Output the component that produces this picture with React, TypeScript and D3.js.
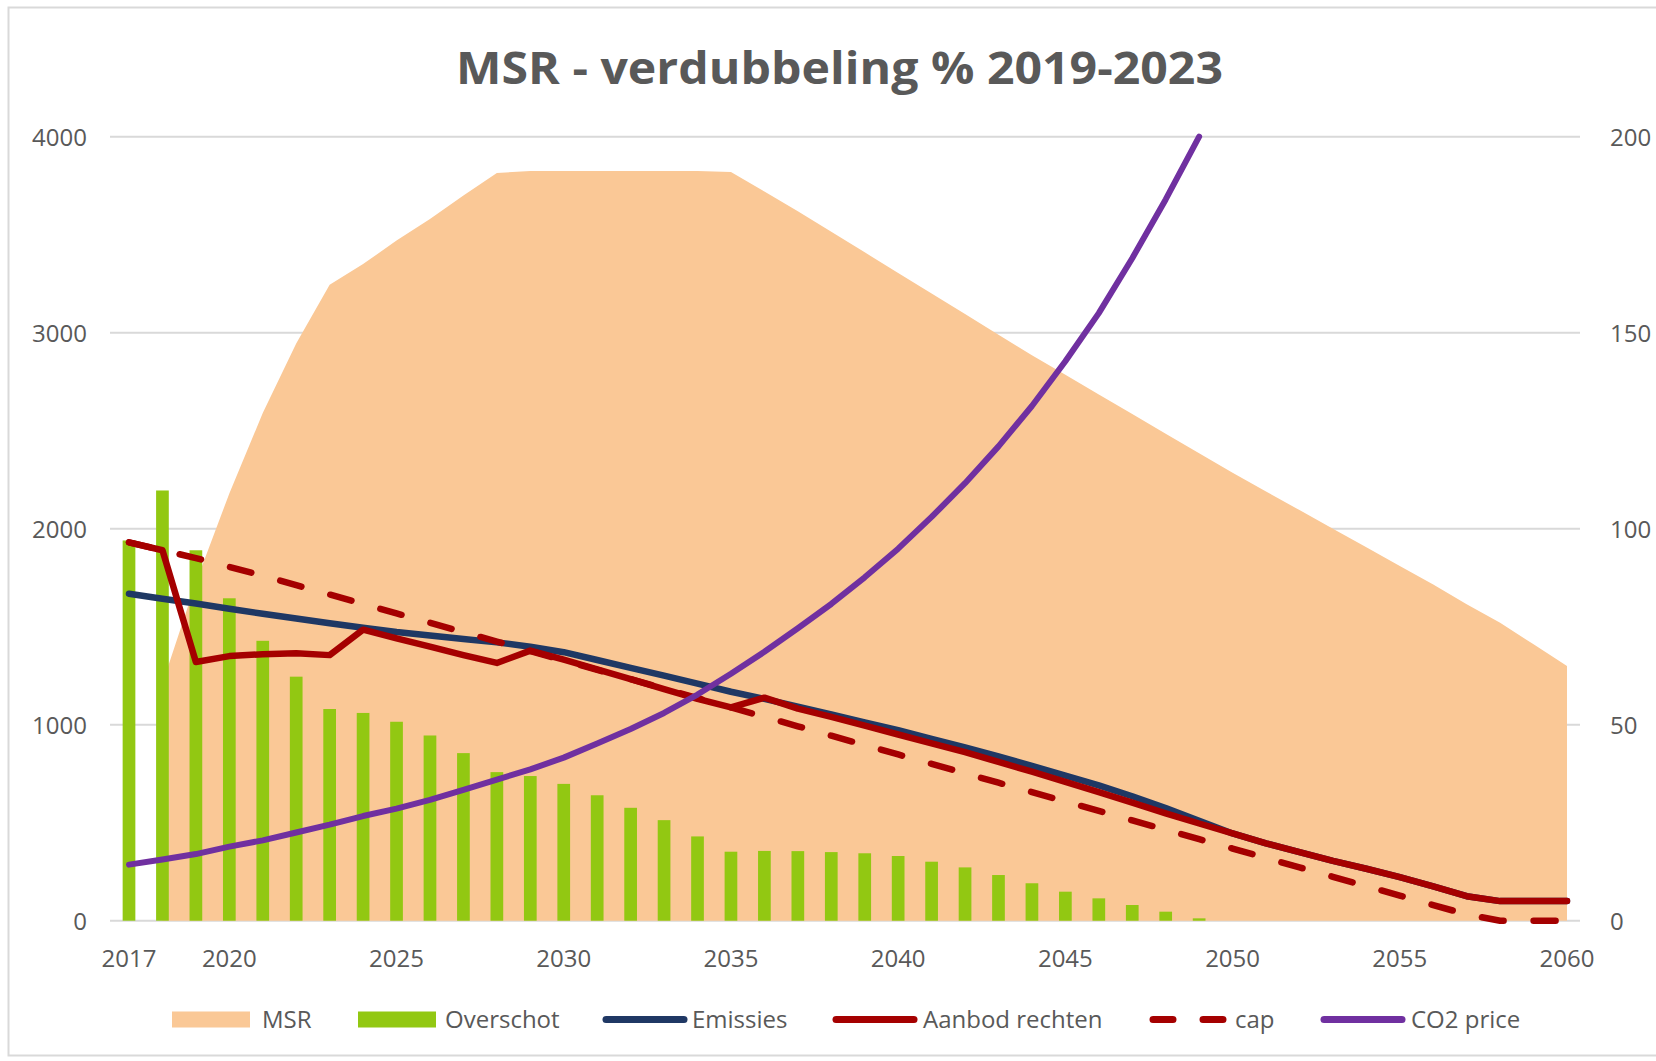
import React from "react";
import { scaleLinear, area, line } from "d3";

const years = [
  2017, 2018, 2019, 2020, 2021, 2022, 2023, 2024, 2025, 2026, 2027, 2028, 2029, 2030, 2031,
  2032, 2033, 2034, 2035, 2036, 2037, 2038, 2039, 2040, 2041, 2042, 2043, 2044, 2045, 2046,
  2047, 2048, 2049, 2050, 2051, 2052, 2053, 2054, 2055, 2056, 2057, 2058, 2059, 2060,
];

// MSR (no value in 2017)
const msr = [
  null, 1210, 1725, 2180, 2590, 2945, 3245, 3350, 3470, 3580, 3700, 3815, 3825, 3825, 3825,
  3825, 3825, 3825, 3820, 3720, 3620, 3515, 3410, 3305, 3200, 3095, 2990, 2885, 2785, 2685,
  2585, 2485, 2385, 2285, 2190, 2095, 2000, 1905, 1810, 1715, 1615, 1520, 1410, 1300,
];

const overschot = [
  1940, 2195, 1890, 1645, 1428, 1245, 1080, 1060, 1015, 945, 855, 758, 738, 698, 640,
  576, 513, 430, 352, 356, 355, 350, 344, 330, 301, 272, 233, 191, 148, 114,
  80, 46, 12, 0, 0, 0, 0, 0, 0, 0, 0, 0, 0, 0,
];

const emissies = [
  1668, 1643, 1618, 1592, 1566, 1542, 1518, 1495, 1473, 1455, 1437, 1420, 1398, 1370, 1330,
  1290, 1250, 1210, 1168, 1132, 1092, 1052, 1012, 972, 928, 884, 838, 790, 740, 690,
  635, 575, 510, 445, 395, 350, 305, 265, 222, 175, 125, 100, 100, 100,
];

const aanbod = [
  1930, 1890, 1320, 1350, 1360, 1365, 1355, 1485, 1440, 1398, 1355, 1315, 1378, 1332, 1282,
  1232, 1182, 1132, 1088, 1138, 1082, 1040, 995, 950, 905, 860, 810, 760, 708, 656,
  602, 548, 496, 445, 395, 350, 305, 265, 222, 175, 125, 100, 100, 100,
];

const cap = [
  1930, 1890, 1850, 1805, 1760, 1712, 1664, 1616, 1568, 1520, 1472, 1424, 1376, 1328, 1280,
  1232, 1184, 1136, 1088, 1040, 992, 944, 896, 848, 800, 752, 704, 656, 608, 560,
  512, 464, 416, 368, 320, 272, 224, 176, 128, 80, 32, 0, 0, 0,
];

// CO2 price, right axis (runs off the top after 2049)
const co2 = [
  14.3, 15.6, 17.0, 18.9, 20.5, 22.5, 24.5, 26.7, 28.6, 30.8, 33.4, 36.0, 38.6, 41.6, 45.2,
  48.9, 53.0, 57.7, 63.0, 68.6, 74.6, 80.8, 87.6, 94.9, 103, 111.6, 121, 131.3, 142.7, 155,
  169, 184, 200, null, null, null, null, null, null, null, null, null, null, null,
];

const xTicks = [2017, 2020, 2025, 2030, 2035, 2040, 2045, 2050, 2055, 2060];
const leftTicks = [0, 1000, 2000, 3000, 4000];
const rightTicks = [0, 50, 100, 150, 200];

const C = {
  msr: "#FAC896",
  bar: "#92C812",
  emis: "#1F3864",
  aanbod: "#A50000",
  co2: "#7030A0",
  grid: "#D9D9D9",
  text: "#595959",
};

const FONT = "'Open Sans', 'DejaVu Sans', sans-serif";

export default function App() {
  const W = 1656;
  const H = 1061;

  const x = scaleLinear().domain([2017, 2060]).range([129, 1567]);
  const yL = scaleLinear().domain([0, 4000]).range([920.7, 136.7]);
  const yR = scaleLinear().domain([0, 200]).range([920.7, 136.7]);
  const gridX0 = 110;
  const gridX1 = 1580;
  const barW = 12.7;

  const rows = years.map((yr, i) => ({ yr, i }));

  const msrArea = area<any>()
    .defined((d) => msr[d.i] != null)
    .x((d) => x(d.yr))
    .y0(yL(0))
    .y1((d) => yL(msr[d.i] as number));

  const mkLine = (arr: (number | null)[], sc: any) =>
    line<any>()
      .defined((d) => arr[d.i] != null)
      .x((d) => x(d.yr))
      .y((d) => sc(arr[d.i]))(rows) || "";

  const legend = [
    { kind: "rect", color: C.msr, label: "MSR", x0: 172, tx: 262 },
    { kind: "rect", color: C.bar, label: "Overschot", x0: 358, tx: 445 },
    { kind: "line", color: C.emis, label: "Emissies", x0: 603, tx: 692 },
    { kind: "line", color: C.aanbod, label: "Aanbod rechten", x0: 833, tx: 923 },
    { kind: "dash", color: C.aanbod, label: "cap", x0: 1149, tx: 1235 },
    { kind: "line", color: C.co2, label: "CO2 price", x0: 1321, tx: 1411 },
  ];
  const legY = 1019.5;

  return (
    <svg
      width={W}
      height={H}
      viewBox={`0 0 ${W} ${H}`}
      style={{ position: "absolute", left: 0, top: 0, background: "#fff" }}
      fontFamily={FONT}
    >
      <defs>
        <clipPath id="plot">
          <rect x={gridX0} y={yL(4000) - 4} width={gridX1 - gridX0} height={yL(0) - yL(4000) + 8} />
        </clipPath>
      </defs>

      {/* chart frame */}
      <rect x={8.5} y={7.5} width={1660} height={1048} fill="none" stroke={C.grid} strokeWidth={2} />

      <text
        x={839.5}
        y={84}
        textAnchor="middle"
        fontSize={45}
        fontWeight="bold"
        fill={C.text}
        textLength={767}
        lengthAdjust="spacingAndGlyphs"
      >
        MSR - verdubbeling % 2019-2023
      </text>

      {/* gridlines */}
      {leftTicks.map((t) => (
        <line key={t} x1={gridX0} x2={gridX1} y1={yL(t)} y2={yL(t)} stroke={C.grid} strokeWidth={2} />
      ))}

      {/* MSR area */}
      <path d={msrArea(rows) || ""} fill={C.msr} />

      {/* Overschot bars */}
      {rows.map((d) =>
        overschot[d.i] > 0 ? (
          <rect
            key={d.yr}
            x={x(d.yr) - barW / 2}
            y={yL(overschot[d.i])}
            width={barW}
            height={yL(0) - yL(overschot[d.i])}
            fill={C.bar}
          />
        ) : null
      )}

      <g fill="none" strokeLinejoin="round" clipPath="url(#plot)">
        <path d={mkLine(emissies, yL)} stroke={C.emis} strokeWidth={6.5} strokeLinecap="round" />
        <path d={mkLine(aanbod, yL)} stroke={C.aanbod} strokeWidth={6.5} strokeLinecap="round" />
        <path d={mkLine(cap, yL)} stroke={C.aanbod} strokeWidth={6.5} strokeDasharray="22 30" strokeLinecap="round" />
        <path d={mkLine(co2, yR)} stroke={C.co2} strokeWidth={6} strokeLinecap="round" />
      </g>

      {/* left axis labels */}
      {leftTicks.map((t) => (
        <text key={t} x={87} y={yL(t) + 9.5} textAnchor="end" fontSize={24} fill={C.text}>
          {t}
        </text>
      ))}

      {/* right axis labels */}
      {rightTicks.map((t) => (
        <text key={t} x={1610} y={yR(t) + 9.5} textAnchor="start" fontSize={24} fill={C.text}>
          {t}
        </text>
      ))}

      {/* x axis labels */}
      {xTicks.map((t) => (
        <text key={t} x={x(t)} y={967} textAnchor="middle" fontSize={24} fill={C.text}>
          {t}
        </text>
      ))}

      {/* legend */}
      {legend.map((l) => (
        <g key={l.label}>
          {l.kind === "rect" && <rect x={l.x0} y={legY - 8} width={78} height={16} fill={l.color} />}
          {l.kind === "line" && (
            <line x1={l.x0 + 3} x2={l.x0 + 81} y1={legY} y2={legY} stroke={l.color} strokeWidth={7} strokeLinecap="round" />
          )}
          {l.kind === "dash" && (
            <line
              x1={l.x0 + 4}
              x2={l.x0 + 76}
              y1={legY}
              y2={legY}
              stroke={l.color}
              strokeWidth={7}
              strokeLinecap="round"
              strokeDasharray="20 30"
            />
          )}
          <text x={l.tx} y={legY + 8} fontSize={24} fill={C.text}>
            {l.label}
          </text>
        </g>
      ))}
    </svg>
  );
}
